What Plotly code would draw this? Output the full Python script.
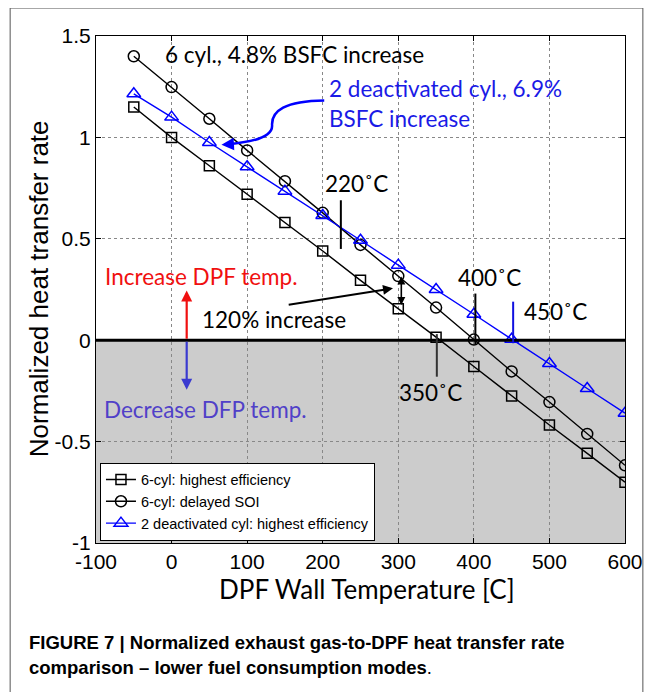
import plotly.graph_objects as go

# ---- data ----
temps = [-50, 0, 50, 100, 150, 200, 250, 300, 350, 400, 450, 500, 550, 600]
six_cyl_high_eff = [1.15, 1.0, 0.86, 0.72, 0.58, 0.44, 0.295, 0.155, 0.015, -0.13, -0.275, -0.418, -0.558, -0.70]
six_cyl_delayed_soi = [1.40, 1.248, 1.092, 0.936, 0.784, 0.628, 0.47, 0.316, 0.161, 0.003, -0.154, -0.305, -0.462, -0.617]
two_deact_high_eff = [1.215, 1.10, 0.975, 0.855, 0.735, 0.615, 0.493, 0.37, 0.25, 0.128, 0.005, -0.115, -0.238, -0.36]

series_names = ["6-cyl: highest efficiency", "6-cyl: delayed SOI", "2 deactivated cyl: highest efficiency"]
x_ticks = [-100, 0, 100, 200, 300, 400, 500, 600]
y_ticks = [-1, -0.5, 0, 0.5, 1, 1.5]
y_tick_text = ["-1", "-0.5", "0", "0.5", "1", "1.5"]

OFF = 8  # page body margin
W, H = 655 - OFF, 692 - OFF
L, R, T, B = 96, 629, 36, 543.5  # plot area in reference-window pixels

def px(xp):
    return (xp - L) / (R - L)

def py(yp):
    return (B - yp) / (B - T)

fig = go.Figure()
line_w = 1.4
fig.add_trace(go.Scatter(x=temps, y=six_cyl_high_eff, mode="lines+markers", name=series_names[0],
                         line=dict(color="black", width=line_w),
                         marker=dict(symbol="square-open", size=10, color="black", line=dict(width=1.5))))
fig.add_trace(go.Scatter(x=temps, y=six_cyl_delayed_soi, mode="lines+markers", name=series_names[1],
                         line=dict(color="black", width=line_w),
                         marker=dict(symbol="circle-open", size=11, color="black", line=dict(width=1.5))))
fig.add_trace(go.Scatter(x=temps, y=two_deact_high_eff, mode="lines+markers", name=series_names[2],
                         line=dict(color="#0000FF", width=line_w),
                         marker=dict(symbol="triangle-up-open", size=12, color="#0000FF", line=dict(width=1.5))))

shapes = []
shapes.append(dict(type="rect", xref="x", yref="y", x0=-100, x1=600, y0=-1, y1=0,
                   fillcolor="#CCCCCC", line=dict(width=0), layer="below"))
shapes.append(dict(type="line", xref="x", yref="y", x0=-100, x1=600, y0=0, y1=0,
                   line=dict(color="black", width=3)))
shapes.append(dict(type="line", xref="x", yref="y", x0=224, x1=224, y0=0.45, y1=0.69,
                   line=dict(color="black", width=2)))
shapes.append(dict(type="line", xref="x", yref="y", x0=402, x1=402, y0=-0.02, y1=0.23,
                   line=dict(color="black", width=2)))
shapes.append(dict(type="line", xref="x", yref="y", x0=452, x1=452, y0=-0.015, y1=0.19,
                   line=dict(color="#1010E0", width=2)))
shapes.append(dict(type="line", xref="x", yref="y", x0=351, x1=351, y0=-0.18, y1=0.03,
                   line=dict(color="#333333", width=2)))
shapes.append(dict(type="path", xref="x", yref="y",
                   path="M 202,1.182 C 150,1.18 132,1.13 133,1.06 C 134,1.0 105,0.975 72,0.966",
                   line=dict(color="#0000FF", width=2.5)))
shapes.append(dict(type="rect", xref="paper", yref="paper", x0=px(9.5), x1=px(647), y0=py(710), y1=py(8),
                   line=dict(color="#555555", width=1), fillcolor="rgba(0,0,0,0)"))

ann_font = "Lato, Open Sans, sans-serif"
annotations = []

def txt(x, y, s, color="black", size=22.5, anchor="left"):
    annotations.append(dict(x=x, y=y, xref="x", yref="y", text=s, showarrow=False,
                            xanchor=anchor, yanchor="middle",
                            font=dict(family=ann_font, size=size, color=color)))

txt(-12, 1.41, "6 cyl., 4.8% BSFC increase")
txt(206, 1.243, "2 deactivated cyl., 6.9%", color="#1a1aE6")
txt(206, 1.095, "BSFC increase", color="#1a1aE6")
txt(201, 0.772, "220˚C")
txt(377, 0.308, "400˚C")
txt(464, 0.141, "450˚C")
txt(298, -0.26, "350˚C")
txt(-91, 0.313, "Increase DPF temp.", color="#F01010")
txt(-92, -0.343, "Decrease DFP temp.", color="#5040C8")
txt(37, 0.1, "120% increase")

def arrow(x, y, ax, ay, color, width=2, side="end", head=2, size=1.0):
    annotations.append(dict(x=x, y=y, ax=ax, ay=ay, xref="x", yref="y", axref="x", ayref="y",
                            text="", showarrow=True, arrowhead=head, arrowside=side,
                            arrowsize=size, arrowwidth=width, arrowcolor=color, startarrowhead=head,
                            startarrowsize=size))

arrow(20, 0.245, 20, 0.0, "#F01010", width=2.2)
arrow(20, -0.244, 20, 0.0, "#3A3AD0", width=2.2)
arrow(293, 0.256, 153, 0.174, "black", width=2)
arrow(304, 0.174, 304, 0.321, "black", width=1.6, side="end+start")
arrow(66, 0.964, 80, 0.967, "#0000FF", width=2.5)

annotations.append(dict(x=px(38), y=py(289), xref="paper", yref="paper", text="Normalized heat transfer rate",
                        showarrow=False, textangle=-90, xanchor="center", yanchor="middle",
                        font=dict(family="Liberation Sans, Arial, sans-serif", size=26, color="black")))
annotations.append(dict(x=px(369), y=py(590), xref="paper", yref="paper", text="DPF Wall Temperature [C]",
                        showarrow=False, xanchor="center", yanchor="middle",
                        font=dict(family=ann_font, size=26, color="black")))
annotations.append(dict(x=px(26), y=py(643), xref="paper", yref="paper",
                        text="<b>FIGURE 7 | Normalized exhaust gas-to-DPF heat transfer rate</b>",
                        showarrow=False, xanchor="left", yanchor="middle",
                        font=dict(family="Liberation Sans, Arial, sans-serif", size=18.5, color="black")))
annotations.append(dict(x=px(26), y=py(668), xref="paper", yref="paper",
                        text="<b>comparison – lower fuel consumption modes</b>.",
                        showarrow=False, xanchor="left", yanchor="middle",
                        font=dict(family="Liberation Sans, Arial, sans-serif", size=18.5, color="black")))

axis_common = dict(showline=True, linecolor="black", linewidth=1, mirror="ticks",
                   ticks="inside", ticklen=5, tickcolor="black",
                   showgrid=True, gridcolor="#888888", griddash="dot", gridwidth=1,
                   zeroline=False,
                   tickfont=dict(family="Liberation Sans, Arial, sans-serif", size=21, color="black"))

fig.update_layout(
    width=W, height=H,
    margin=dict(l=L - OFF, r=W - (R - OFF), t=T - OFF, b=H - (B - OFF)),
    paper_bgcolor="white", plot_bgcolor="white",
    shapes=shapes, annotations=annotations,
    xaxis=dict(range=[-100, 600], tickvals=x_ticks, ticktext=[str(v) for v in x_ticks], **axis_common),
    yaxis=dict(range=[-1, 1.5], tickvals=y_ticks, ticktext=y_tick_text, **axis_common),
    showlegend=True,
    legend=dict(x=px(100), y=py(541), xanchor="left", yanchor="bottom",
                bgcolor="white", bordercolor="black", borderwidth=1,
                font=dict(family="Liberation Sans, Arial, sans-serif", size=14.5, color="black"),
                itemwidth=30, tracegroupgap=0),
)

fig.write_html("out.html")
